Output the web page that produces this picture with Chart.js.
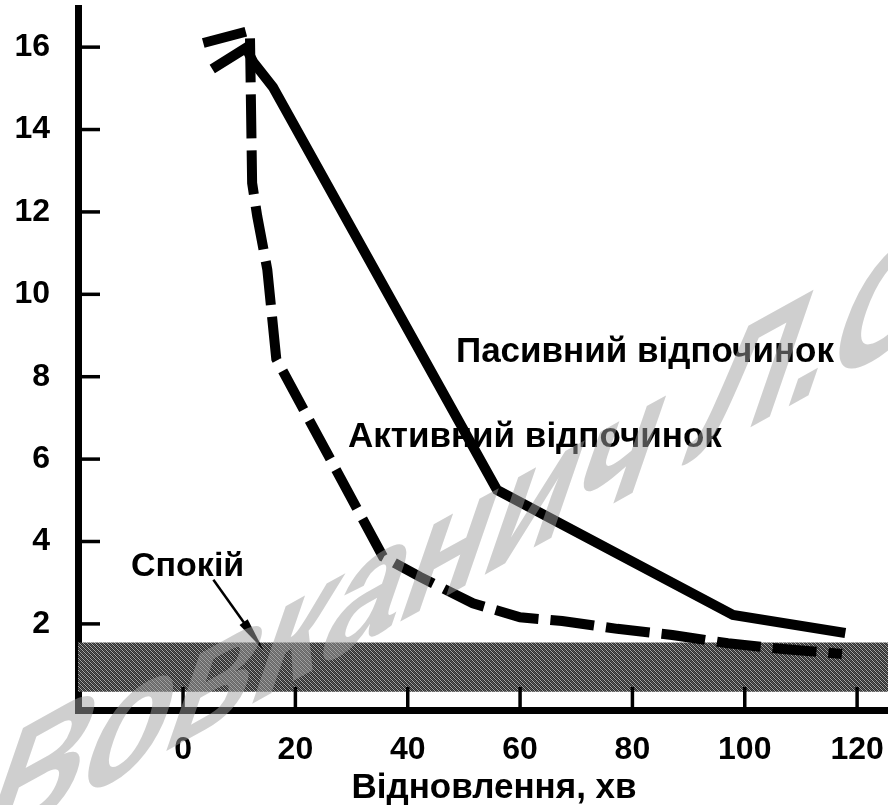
<!DOCTYPE html>
<html>
<head>
<meta charset="utf-8">
<script src="https://cdn.jsdelivr.net/npm/chart.js@4.4.1/dist/chart.umd.min.js"></script>
<style>
  html, body { margin: 0; padding: 0; background: #fff; }
  #chart { display: block; }
</style>
</head>
<body>
<canvas id="chart" width="888" height="805"></canvas>
<script>
// Пасивний відпочинок (суцільна лінія)
const passiveX = [5.2, 11.2, 12.5, 16.0, 55.9, 97.9, 117.9]
const passiveY = [15.47, 15.98, 15.64, 15.03, 5.25, 2.22, 1.78]

// Активний відпочинок (штрихова лінія)
const activeX = [3.6, 11.9, 12.3, 13.2, 15.0, 16.6, 35.6, 42.2, 51.6, 60.0, 67.5, 77.3, 87.1, 97.0, 106.8, 117.3]
const activeY = [16.1, 16.4, 12.7, 11.9, 10.6, 8.43, 3.63, 3.14, 2.5, 2.16, 2.07, 1.88, 1.73, 1.53, 1.39, 1.27]

// Спокій (смуга)
const restLow = 0.35
const restHigh = 1.55

const xTicks = [0, 20, 40, 60, 80, 100, 120]
const yTicks = [2, 4, 6, 8, 10, 12, 14, 16]
const xMin = -18.7, xMax = 125.5
const yMin = -0.09, yMax = 16.95

const FONT = "'Liberation Sans', Arial, sans-serif"

// hatched texture for the rest band
function makePattern() {
  const c = document.createElement("canvas")
  c.width = 4
  c.height = 4
  const g = c.getContext("2d")
  g.fillStyle = "#2e2e2e"
  g.fillRect(0, 0, 4, 4)
  g.fillStyle = "#a8a8a8"
  for (let i = 0; i < 4; i++) g.fillRect(i, i, 1, 1)
  g.fillStyle = "#5a5a5a"
  for (let i = 0; i < 4; i++) g.fillRect((i + 2) % 4, i, 1, 1)
  return g.createPattern(c, "repeat")
}
const bandFill = makePattern()

const toPoints = (xs, ys) => xs.map((x, i) => ({ x: x, y: ys[i] }))

// no extra room for overflowing labels
const noPad = (s) => {
  s.paddingTop = 0
  s.paddingBottom = 0
  s.paddingLeft = 0
  s.paddingRight = 0
}

const decorPlugin = {
  id: "decor",
  afterDatasetsDraw(chart) {
    const ctx = chart.ctx
    const xs = chart.scales.x
    const ys = chart.scales.y
    const area = chart.chartArea
    ctx.save()
    ctx.strokeStyle = "#000"
    ctx.lineWidth = 3.5
    // inward tick marks
    xTicks.forEach((v) => {
      const px = xs.getPixelForValue(v)
      ctx.beginPath()
      ctx.moveTo(px, area.bottom)
      ctx.lineTo(px, area.bottom - 23)
      ctx.stroke()
    })
    yTicks.forEach((v) => {
      const py = ys.getPixelForValue(v)
      ctx.beginPath()
      ctx.moveTo(area.left, py)
      ctx.lineTo(area.left + 22, py)
      ctx.stroke()
    })

    // arrow to the rest band
    const ax0 = xs.getPixelForValue(5.4), ay0 = ys.getPixelForValue(3.07)
    const ax1 = xs.getPixelForValue(14.3), ay1 = ys.getPixelForValue(1.37)
    const ang = Math.atan2(ay1 - ay0, ax1 - ax0)
    ctx.lineWidth = 2.5
    ctx.beginPath()
    ctx.moveTo(ax0, ay0)
    ctx.lineTo(ax1 - 20 * Math.cos(ang), ay1 - 20 * Math.sin(ang))
    ctx.stroke()
    ctx.fillStyle = "#000"
    ctx.beginPath()
    ctx.moveTo(ax1, ay1)
    ctx.lineTo(ax1 - 34 * Math.cos(ang) + 5 * Math.sin(ang), ay1 - 34 * Math.sin(ang) - 5 * Math.cos(ang))
    ctx.lineTo(ax1 - 34 * Math.cos(ang) - 5 * Math.sin(ang), ay1 - 34 * Math.sin(ang) + 5 * Math.cos(ang))
    ctx.closePath()
    ctx.fill()

    // labels
    ctx.fillStyle = "#000"
    ctx.textBaseline = "alphabetic"
    ctx.textAlign = "left"
    ctx.font = "bold 35px " + FONT
    ctx.fillText("Пасивний відпочинок", 456, 362)
    ctx.fillText("Активний відпочинок", 348, 447)
    ctx.font = "bold 34px " + FONT
    ctx.fillText("Спокій", 131, 576)
    ctx.textAlign = "center"
    ctx.font = "bold 35px " + FONT
    ctx.fillText("Відновлення, хв", 494, 798)
    ctx.restore()
  },
  afterDraw(chart) {
    // watermark
    const ctx = chart.ctx
    const phi = 29 * Math.PI / 180
    const psi = 19 * Math.PI / 180
    const A = 1.6, B = 1.95
    ctx.save()
    ctx.setTransform(A * Math.cos(phi), -A * Math.sin(phi), -B * Math.sin(psi), B * Math.cos(psi), -30, 860)
    ctx.font = "bold 100px " + FONT
    ctx.fillStyle = "rgba(160,160,160,0.5)"
    ctx.textBaseline = "alphabetic"
    ctx.textAlign = "left"
    ctx.fillText("Вовканич Л.С", 0, 0)
    ctx.restore()
  },
}

const ctx = document.getElementById("chart").getContext("2d")

const chart = new Chart(ctx, {
  type: "line",
  data: {
    datasets: [
      {
        label: "Пасивний відпочинок",
        data: toPoints(passiveX, passiveY),
        borderColor: "#000",
        borderWidth: 10,
        borderJoinStyle: "miter",
        pointRadius: 0,
        tension: 0,
        fill: false,
        order: 1,
      },
      {
        label: "Активний відпочинок",
        data: toPoints(activeX, activeY),
        borderColor: "#000",
        borderWidth: 10,
        borderDash: [44, 12],
        borderCapStyle: "butt",
        pointRadius: 0,
        tension: 0,
        fill: false,
        order: 1,
      },
      {
        label: "Спокій",
        data: [{ x: xMin, y: restHigh }, { x: xMax, y: restHigh }],
        borderWidth: 0,
        borderColor: "rgba(0,0,0,0)",
        backgroundColor: bandFill,
        pointRadius: 0,
        fill: "+1",
        order: 5,
      },
      {
        label: "low",
        data: [{ x: xMin, y: restLow }, { x: xMax, y: restLow }],
        borderWidth: 0,
        borderColor: "rgba(0,0,0,0)",
        pointRadius: 0,
        fill: false,
        order: 6,
      },
    ],
  },
  options: {
    responsive: false,
    animation: false,
    devicePixelRatio: 1,
    layout: { autoPadding: false, padding: { top: 8, right: 0, left: 0, bottom: 0 } },
    scales: {
      x: {
        type: "linear",
        min: xMin,
        max: xMax,
        afterBuildTicks: (s) => { s.ticks = xTicks.map((v) => ({ value: v })) },
        afterFit: (s) => { s.height = 95; noPad(s) },
        grid: { display: false, drawTicks: false },
        border: { display: true, color: "#000", width: 7 },
        ticks: {
          color: "#000",
          padding: 21,
          maxRotation: 0,
          autoSkip: false,
          font: { family: FONT, size: 32, weight: "bold" },
        },
      },
      y: {
        type: "linear",
        min: yMin,
        max: yMax,
        afterBuildTicks: (s) => { s.ticks = yTicks.map((v) => ({ value: v })) },
        afterFit: (s) => { s.width = 78; noPad(s) },
        grid: { display: false, drawTicks: false },
        border: { display: true, color: "#000", width: 7 },
        ticks: {
          color: "#000",
          padding: 28,
          autoSkip: false,
          font: { family: FONT, size: 32, weight: "bold" },
        },
      },
    },
    plugins: {
      legend: { display: false },
      tooltip: { enabled: false },
    },
  },
  plugins: [decorPlugin],
})
</script>
</body>
</html>
